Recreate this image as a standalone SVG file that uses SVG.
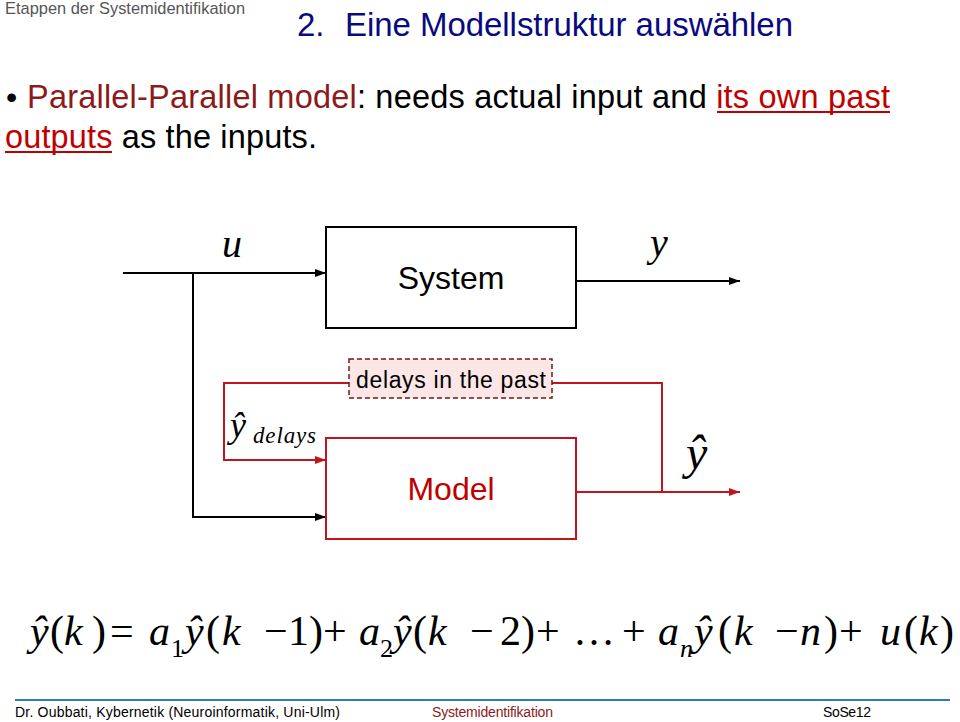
<svg xmlns="http://www.w3.org/2000/svg" width="960" height="722" viewBox="0 0 960 722">
<defs>
<style>
.sans{font-family:"Liberation Sans",Arial,sans-serif}
.ser{font-family:"Liberation Serif","Times New Roman",serif;font-style:italic}
.up{font-family:"Liberation Serif","Times New Roman",serif;font-style:normal}
.blk{fill:none;stroke:#000;stroke-width:2}
.red{fill:none;stroke:#c0141e;stroke-width:2}
.eq{font-size:42px;fill:#000}
.sub{font-size:26px;fill:#000}
</style>
<marker id="ab" markerUnits="userSpaceOnUse" markerWidth="11" markerHeight="8" refX="11" refY="4" orient="auto"><path d="M0,0 L11,4 L0,8 z" fill="#000"/></marker>
<marker id="ar" markerUnits="userSpaceOnUse" markerWidth="11" markerHeight="8" refX="11" refY="4" orient="auto"><path d="M0,0 L11,4 L0,8 z" fill="#c0141e"/></marker>
</defs>
<rect width="960" height="722" fill="#fff"/>

<text x="5" y="14" class="sans" font-size="16.4" fill="#555" textLength="240">Etappen der Systemidentifikation</text>
<text x="297" y="36" class="sans" font-size="33" fill="#0a0a80">2.</text>
<text x="345" y="36" class="sans" font-size="33" fill="#0a0a80" textLength="448">Eine Modellstruktur auswählen</text>

<text x="6" y="108" class="sans" font-size="32" fill="#000">•</text>
<text x="27" y="108" class="sans" font-size="32.5" textLength="863"><tspan fill="#8b1a1a">Parallel-Parallel model</tspan><tspan fill="#000">: needs actual input and </tspan><tspan fill="#c00000">its own past</tspan></text>
<line x1="717" y1="112" x2="890" y2="112" stroke="#c00000" stroke-width="2"/>
<text x="5" y="148" class="sans" font-size="32.5" textLength="312"><tspan fill="#c00000">outputs</tspan><tspan fill="#000"> as the inputs.</tspan></text>
<line x1="5" y1="152" x2="112" y2="152" stroke="#c00000" stroke-width="2"/>

<g id="connectors">
<path class="blk" d="M123,273 H326" marker-end="url(#ab)"/>
<path class="blk" d="M193,273 V517 H326" marker-end="url(#ab)"/>
<path class="blk" d="M576,281 H740" marker-end="url(#ab)"/>
<path class="red" d="M576,492 H740" marker-end="url(#ar)"/>
<path class="red" d="M662,492 V383 H552"/>
<path class="red" d="M349,383 H224 V460 H326" marker-end="url(#ar)"/>
</g>

<g id="system">
<rect x="326" y="227" width="250" height="101" fill="#fff" stroke="#000" stroke-width="2"/>
<text x="451" y="289" class="sans" font-size="32" text-anchor="middle" fill="#000">System</text>
</g>
<g id="model">
<rect x="326" y="438" width="250" height="101" fill="#fff" stroke="#c0141e" stroke-width="2"/>
<text x="451" y="500" class="sans" font-size="32" text-anchor="middle" fill="#c00000">Model</text>
</g>
<g id="delays">
<rect x="349" y="359" width="203" height="39" fill="#fce6e6" stroke="#6b1a1a" stroke-width="1.5" stroke-dasharray="5 3"/>
<text x="451" y="388" class="sans" font-size="23" text-anchor="middle" fill="#000" textLength="190">delays in the past</text>
</g>

<g id="labels">
<text x="222" y="257" class="ser" font-size="40">u</text>
<text x="650" y="256" class="ser" font-size="40">y</text>
<text x="686" y="469" class="ser" font-size="48">ŷ</text>
<text x="230" y="437" class="ser" font-size="36">ŷ</text>
<text x="253" y="443" class="ser" font-size="23" textLength="63">delays</text>
</g>

<g id="equation">
<text x="30" y="645" class="ser eq">ŷ</text>
<text x="50" y="645" class="up eq">(</text>
<text x="64" y="645" class="ser eq">k</text>
<text x="92" y="645" class="up eq">)</text>
<text x="110" y="645" class="up eq">=</text>
<text x="149" y="645" class="ser eq">a</text>
<text x="171" y="657" class="up sub">1</text>
<text x="185" y="645" class="ser eq">ŷ</text>
<text x="206" y="645" class="up eq">(</text>
<text x="222" y="645" class="ser eq">k</text>
<text x="264" y="645" class="up eq">−</text>
<text x="288" y="645" class="up eq">1)</text>
<text x="323" y="645" class="up eq">+</text>
<text x="359" y="645" class="ser eq">a</text>
<text x="380" y="657" class="up sub">2</text>
<text x="393" y="645" class="ser eq">ŷ</text>
<text x="413" y="645" class="up eq">(</text>
<text x="428" y="645" class="ser eq">k</text>
<text x="470" y="645" class="up eq">−</text>
<text x="500" y="645" class="up eq">2)</text>
<text x="536" y="645" class="up eq">+</text>
<text x="573" y="645" class="up eq">…</text>
<text x="622" y="645" class="up eq">+</text>
<text x="658" y="645" class="ser eq">a</text>
<text x="680" y="657" class="ser sub">n</text>
<text x="694" y="645" class="ser eq">ŷ</text>
<text x="718" y="645" class="up eq">(</text>
<text x="734" y="645" class="ser eq">k</text>
<text x="775" y="645" class="up eq">−</text>
<text x="800" y="645" class="ser eq">n</text>
<text x="824" y="645" class="up eq">)</text>
<text x="839" y="645" class="up eq">+</text>
<text x="880" y="645" class="ser eq">u</text>
<text x="904" y="645" class="up eq">(</text>
<text x="919" y="645" class="ser eq">k</text>
<text x="940" y="645" class="up eq">)</text>
</g>

<line x1="15" y1="700" x2="950" y2="700" stroke="#2d7db5" stroke-width="2"/>
<text x="15" y="717" class="sans" font-size="14" fill="#000" textLength="325">Dr. Oubbati, Kybernetik (Neuroinformatik, Uni-Ulm)</text>
<text x="432" y="717" class="sans" font-size="14" fill="#8b1a1a" textLength="121">Systemidentifikation</text>
<text x="823" y="717" class="sans" font-size="14" fill="#000" textLength="48">SoSe12</text>
</svg>
